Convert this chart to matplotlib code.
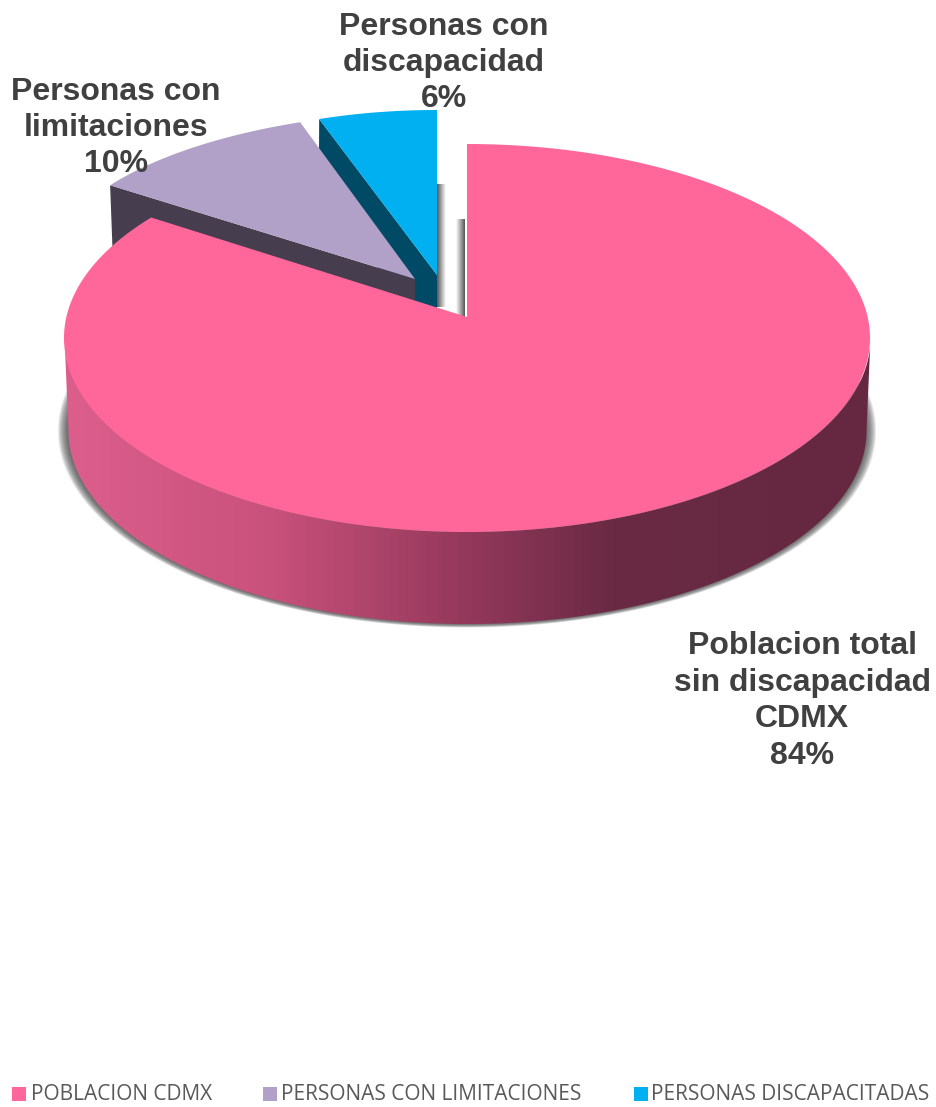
#!/usr/bin/env python3
import matplotlib
matplotlib.use('Agg')
import matplotlib.pyplot as plt
from matplotlib.colors import LinearSegmentedColormap
from matplotlib.patches import Polygon, Rectangle
import numpy as np

# data
series_names = ['POBLACION CDMX', 'PERSONAS CON LIMITACIONES', 'PERSONAS DISCAPACITADAS']
shares = [84, 10, 6]
slice_labels = ['Poblacion total\nsin discapacidad\nCDMX', 'Personas con\nlimitaciones', 'Personas con\ndiscapacidad']
colors = ['#FF6699', '#B1A0C7', '#00B0F0']
side_colors = ['#652840', '#463E4E', '#004A66']

# pixel canvas, y pointing down
fig = plt.figure(figsize=(9.36, 11.07), dpi=100, facecolor='w')
ax = fig.add_axes([0, 0, 1, 1])

def arc(cx, cy, rx, ry, a0, a1, n=200):
    # angles in degrees, clockwise from 12 o'clock
    t = np.radians(np.linspace(a0, a1, n))
    return np.column_stack([cx + rx * np.sin(t), cy - ry * np.cos(t)])

def hgrad(x0, x1, y0, y1, c0, c1, z):
    # horizontal shadow strip fading from c0 to c1
    cm = LinearSegmentedColormap.from_list('s', [c0, c1])
    ax.imshow(np.linspace(0, 1, 64).reshape(1, -1), extent=[x0, x1, y1, y0], cmap=cm,
              aspect='auto', zorder=z, interpolation='bilinear')

# slice angles from the shares
ends = np.cumsum(shares) * 3.6
pink_end = ends[0] + 6  # the perspective squeezes the back of the pie

# soft shadow below the pie, front half only
for i in range(10):
    grow = 10 - i
    edge = arc(467, 431, 399 + grow, 193 + grow * 0.35, 75, 285, 300)
    ax.add_patch(Polygon(edge, closed=True, fc='#404040', ec='none', alpha=0.12, zorder=1))

# little shadows in the gaps
hgrad(437, 446, 184, 307, '#555555', '#ffffff', 2)
hgrad(456, 465, 219, 317, '#ffffff', '#555555', 2)

# blue slice
blue_edge = arc(437, 239, 320, 129, ends[1], ends[2])
blue_apex = (437, 275)
ax.add_patch(Polygon([blue_edge[0], blue_apex, (437, 312), (400, 312), (319, 152)], closed=True,
                     fc=side_colors[2], ec='none', zorder=3))
ax.add_patch(Polygon(np.vstack([blue_edge, blue_apex]), closed=True, fc=colors[2], ec='none', zorder=4))

# purple slice
purple_edge = arc(447, 271, 399, 160, ends[0], ends[1])
purple_apex = (415, 279)
ax.add_patch(Polygon([purple_edge[0], purple_apex, (415, 305), (113, 262)], closed=True,
                     fc=side_colors[1], ec='none', zorder=5))
ax.add_patch(Polygon(np.vstack([purple_edge, purple_apex]), closed=True, fc=colors[1], ec='none', zorder=6))

# pink slice, side wall first with the light running left to right
top_front = arc(467.5, 338, 403, 194, 90, 270)
bottom_front = arc(467.5, 431, 399, 193, 270, 90)
side_cm = LinearSegmentedColormap.from_list('side', [(0, '#DC5E8C'), (0.25, '#C9527C'), (0.47, '#9A3B5E'),
                                                     (0.68, '#6A2A44'), (1, '#652840')])
side_img = ax.imshow(np.linspace(0, 1, 256).reshape(1, -1), extent=[65, 871, 640, 330], cmap=side_cm,
                     aspect='auto', zorder=7)
side_clip = Polygon(np.vstack([top_front, bottom_front]), closed=True, transform=ax.transData, fc='none', ec='none')
ax.add_patch(side_clip)
side_img.set_clip_path(side_clip)

pink_top = arc(467, 338, 403, 194, 0, pink_end, 400)
ax.add_patch(Polygon(np.vstack([pink_top, (467, 317)]), closed=True, fc=colors[0], ec='none', zorder=8))

# slice labels
label_pos = [(802, 701), (116, 128), (444, 63)]
for txt, share, (lx, ly) in zip(slice_labels, shares, label_pos):
    ax.text(lx, ly, '{}\n{}%'.format(txt, share), ha='center', va='center', color='#404040', zorder=10,
            fontsize=23, fontweight='bold', family='Liberation Sans', linespacing=1.28)

# legend
leg_tx = [31, 281, 651]
leg_sq = [12, 263, 634]
for name, col, sx, tx in zip(series_names, colors, leg_sq, leg_tx):
    ax.add_patch(Rectangle((sx, 1087), 14, 14, fc=col, ec='none', zorder=10))
    ax.text(tx, 1094, name, ha='left', va='center', color='#595959', fontsize=15, family='Open Sans', zorder=10)

ax.set_xlim(0, 936)
ax.set_ylim(1107, 0)
ax.axis('off')
plt.savefig('out.png', dpi=100)
